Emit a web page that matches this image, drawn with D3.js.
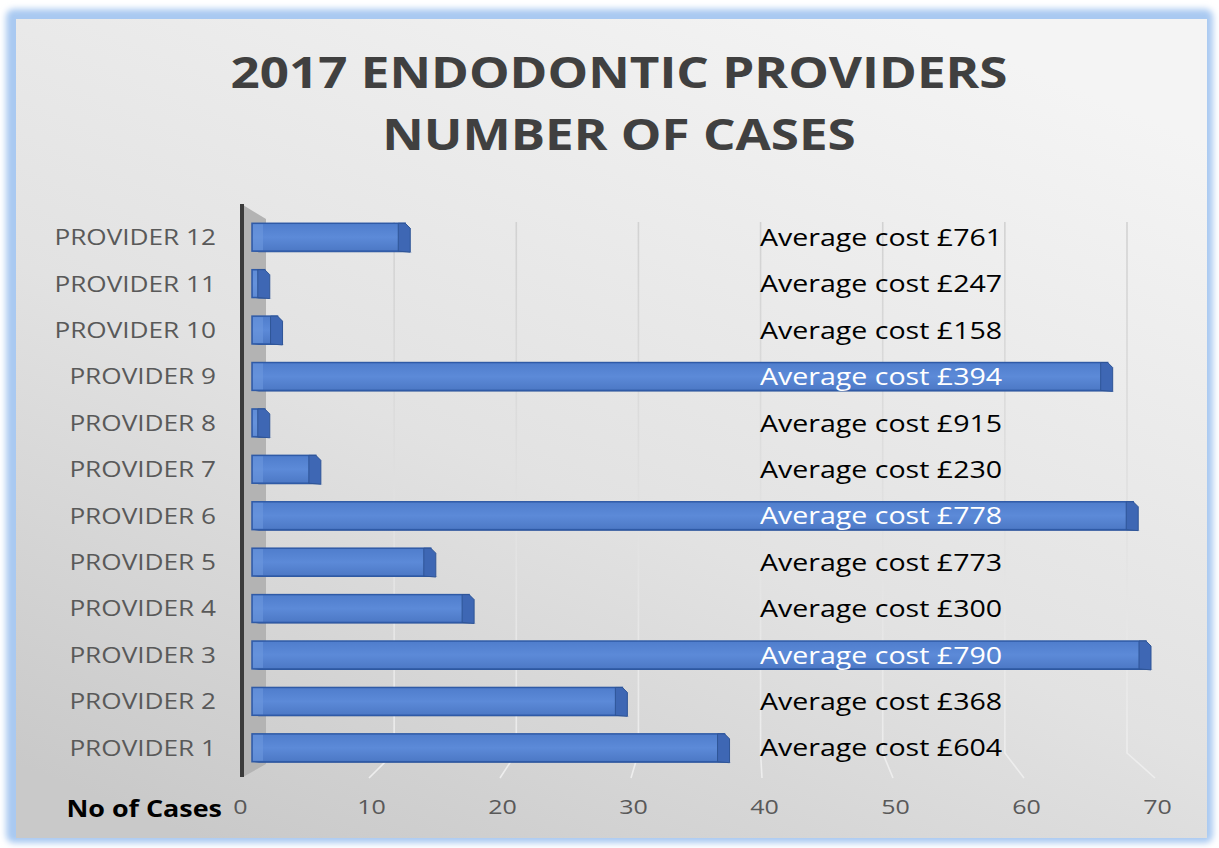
<!DOCTYPE html>
<html>
<head>
<meta charset="utf-8">
<script src="https://cdn.jsdelivr.net/npm/d3@7"></script>
<style>
  body { margin: 0; background: #fff; }
  svg { display: block; }
</style>
</head>
<body>
<div id="chart"></div>
<script>
// data
var providers = ["PROVIDER 1", "PROVIDER 2", "PROVIDER 3", "PROVIDER 4", "PROVIDER 5", "PROVIDER 6",
                 "PROVIDER 7", "PROVIDER 8", "PROVIDER 9", "PROVIDER 10", "PROVIDER 11", "PROVIDER 12"];
var cases = [37, 29, 70, 17, 14, 69, 5, 1, 67, 2, 1, 12];
var avgCost = [604, 368, 790, 300, 773, 778, 230, 915, 394, 158, 247, 761];
var xTicks = [0, 10, 20, 30, 40, 50, 60, 70];
var titleLines = ["2017 ENDODONTIC PROVIDERS", "NUMBER OF CASES"];

var width = 1219, height = 848;
var font = "Open Sans, sans-serif";
var stretch = 1.25; // the source picture is a bit wider than tall

var svg = d3.select("#chart").append("svg")
  .attr("width", width)
  .attr("height", height);

var defs = svg.append("defs");

var bg = defs.append("linearGradient").attr("id", "bg")
  .attr("x1", "75%").attr("y1", "0%").attr("x2", "15%").attr("y2", "100%");
bg.append("stop").attr("offset", "0%").attr("stop-color", "#f4f4f4");
bg.append("stop").attr("offset", "55%").attr("stop-color", "#e2e2e2");
bg.append("stop").attr("offset", "100%").attr("stop-color", "#c9c9c9");

var grid = defs.append("linearGradient").attr("id", "grid")
  .attr("gradientUnits", "userSpaceOnUse")
  .attr("x1", 0).attr("y1", 220).attr("x2", 0).attr("y2", 780);
grid.append("stop").attr("offset", "0%").attr("stop-color", "#d2d2d2");
grid.append("stop").attr("offset", "100%").attr("stop-color", "#eeeeee");

var barFill = defs.append("linearGradient").attr("id", "barFill")
  .attr("x1", 0).attr("y1", 0).attr("x2", 0).attr("y2", 1);
barFill.append("stop").attr("offset", "0%").attr("stop-color", "#4f7dcc");
barFill.append("stop").attr("offset", "50%").attr("stop-color", "#5c8ad8");
barFill.append("stop").attr("offset", "100%").attr("stop-color", "#4c78c5");

var glow = defs.append("filter").attr("id", "glow")
  .attr("x", "-5%").attr("y", "-5%").attr("width", "110%").attr("height", "110%");
glow.append("feGaussianBlur").attr("stdDeviation", 3);

// frame
svg.append("rect")
  .attr("x", 6).attr("y", 9).attr("width", 1207).attr("height", 834)
  .attr("rx", 8)
  .attr("fill", "#a9c9f1")
  .attr("filter", "url(#glow)");
svg.append("rect")
  .attr("x", 16).attr("y", 19).attr("width", 1191).attr("height", 819)
  .attr("fill", "url(#bg)");

// title
svg.append("g").selectAll("text")
  .data(titleLines)
  .join("text")
  .attr("transform", function(d, i) { return "translate(619," + (88 + i * 62) + ") scale(1.19,1)"; })
  .attr("text-anchor", "middle")
  .attr("font-family", font)
  .attr("font-weight", "bold")
  .attr("font-size", "43px")
  .attr("fill", "#404040")
  .text(function(d) { return d; });

// scales: front edge of the floor, bar fronts, back wall
var xFront = d3.scaleLinear().domain([0, 70]).range([240, 1157]);
var xBar = d3.scaleLinear().domain([0, 70]).range([252, 1146]);
var xBack = d3.scaleLinear().domain([0, 70]).range([272, 1127]);

var y = d3.scaleBand()
  .domain(providers.slice().reverse())
  .range([214, 771])
  .paddingInner(0.4)
  .paddingOuter(0.2);

// gridlines on back wall and floor
svg.append("g").selectAll("path")
  .data(xTicks.slice(1))
  .join("path")
  .attr("d", function(d) {
    return "M" + xBack(d) + ",222 L" + xBack(d) + ",753 L" + (xFront(d) - 2) + ",778";
  })
  .attr("fill", "none")
  .attr("stroke", "url(#grid)")
  .attr("stroke-width", 1.6);

// side wall
svg.append("path")
  .attr("d", "M243,205 L266,219 L266,764 L243,777 Z")
  .attr("fill", "#b3b3b3");
svg.append("line")
  .attr("x1", 242).attr("x2", 242)
  .attr("y1", 204).attr("y2", 777)
  .attr("stroke", "#3b3b3b")
  .attr("stroke-width", 4);

// bars
var rows = providers.map(function(p, i) {
  return { name: p, value: cases[i], cost: avgCost[i] };
});

var bars = svg.append("g").selectAll("g")
  .data(rows)
  .join("g");

var bh = y.bandwidth(), dx = 7, dy = 5;

// bottom face
bars.append("path")
  .attr("d", function(d) {
    var x0 = xBar(0), x1 = xBar(d.value), yy = y(d.name) + bh;
    return "M" + x0 + "," + yy + " L" + x1 + "," + yy + " L" + (x1 + dx) + "," + (yy + 1) +
           " L" + (x0 + dx) + "," + (yy + 1) + " Z";
  })
  .attr("fill", "#2f5597");

// front face
bars.append("rect")
  .attr("x", xBar(0))
  .attr("y", function(d) { return y(d.name); })
  .attr("width", function(d) { return xBar(d.value) - xBar(0); })
  .attr("height", bh)
  .attr("fill", "url(#barFill)")
  .attr("stroke", "#2f5aa6")
  .attr("stroke-width", 1.5);

// left bevel
bars.append("rect")
  .attr("x", xBar(0) + 1)
  .attr("y", function(d) { return y(d.name) + 1; })
  .attr("width", function(d) { return Math.min(10, xBar(d.value) - xBar(0) - 2); })
  .attr("height", bh - 2)
  .attr("fill", "#6d97de")
  .attr("opacity", 0.6);

// right end face
bars.append("path")
  .attr("d", function(d) {
    var x1 = xBar(d.value), y0 = y(d.name);
    return "M" + (x1 - dx) + "," + y0 + " L" + x1 + "," + y0 + " L" + (x1 + dx - 2) + "," + (y0 + dy) +
           " L" + (x1 + dx - 2) + "," + (y0 + bh + 1) + " L" + (x1 - dx) + "," + (y0 + bh) + " Z";
  })
  .attr("fill", "#3e67b4")
  .attr("stroke", "#2f5597")
  .attr("stroke-width", 1);

// category labels
svg.append("g").selectAll("text")
  .data(rows)
  .join("text")
  .attr("transform", function(d) { return "translate(216," + (y(d.name) + bh / 2) + ") scale(1.19,1)"; })
  .attr("dy", "0.36em")
  .attr("text-anchor", "end")
  .attr("font-family", font)
  .attr("font-size", "22px")
  .attr("fill", "#595959")
  .text(function(d) { return d.name; });

// cost annotations
var costX = 760;
svg.append("g").selectAll("text")
  .data(rows)
  .join("text")
  .attr("transform", function(d) { return "translate(" + costX + "," + (y(d.name) + bh / 2) + ") scale(1.19,1)"; })
  .attr("dy", "0.36em")
  .attr("font-family", font)
  .attr("font-size", "24px")
  .attr("fill", function(d) { return xBar(d.value) > costX + 250 ? "#ffffff" : "#000000"; })
  .text(function(d) { return "Average cost £" + d.cost; });

// x axis
var xAxis = svg.append("g")
  .attr("transform", "translate(0,800)")
  .call(d3.axisBottom(xFront).tickValues(xTicks).tickSize(0).tickPadding(0));
xAxis.select(".domain").remove();
xAxis.selectAll("text")
  .attr("transform", "scale(" + stretch + ",1)")
  .attr("font-family", font)
  .attr("font-size", "20px")
  .attr("fill", "#595959");

svg.append("text")
  .attr("transform", "translate(222,817) scale(1.17,1)")
  .attr("text-anchor", "end")
  .attr("font-family", font)
  .attr("font-weight", "bold")
  .attr("font-size", "23px")
  .attr("fill", "#000")
  .text("No of Cases");
</script>
</body>
</html>
